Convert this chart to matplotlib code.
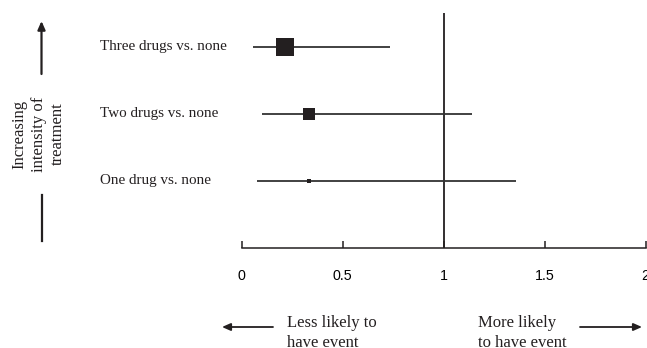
import matplotlib

matplotlib.use("Agg")
import matplotlib.pyplot as plt
from matplotlib.transforms import blended_transform_factory

# data
comparisons = ["Three drugs vs. none", "Two drugs vs. none", "One drug vs. none"]
estimates = [0.216, 0.335, 0.335]
ci_low = [0.057, 0.10, 0.074]
ci_high = [0.734, 1.14, 1.36]
rows = [3, 2, 1]
x_ticks = [0, 0.5, 1, 1.5, 2]
x_tick_labels = ["0", "0.5", "1", "1.5", "2"]

# marker sizes (points) in the same order as comparisons
marker_sizes = [12.7, 9.1, 2.3]

ink = "#231f20"
serif = ["Liberation Serif", "DejaVu Serif"]

fig = plt.figure(figsize=(6.47, 3.48), dpi=100)
fig.patch.set_facecolor("white")
ax = fig.add_axes([241.7 / 647, 1 - 248 / 348, 404 / 647, 235 / 348])

for r, est, lo, hi, ms in zip(rows, estimates, ci_low, ci_high, marker_sizes):
    ax.plot([lo, hi], [r, r], color="#333333", linewidth=1.3, solid_capstyle="butt", zorder=2)
    ax.plot([est], [r], marker="s", markersize=ms, color=ink, markeredgewidth=0, zorder=3)

ax.axvline(1.0, color=ink, linewidth=1.3, zorder=1)

ax.set_xlim(0, 2)
ax.set_ylim(0, 3.5)
ax.set_xticks(x_ticks)
ax.set_xticklabels(x_tick_labels, fontfamily="Liberation Sans", fontsize=10.3)
ax.set_yticks([])
for side in ["left", "right", "top"]:
    ax.spines[side].set_visible(False)
ax.spines["bottom"].set_color(ink)
ax.spines["bottom"].set_linewidth(1.1)
ax.tick_params(axis="x", direction="in", length=5, width=1.1, color=ink, pad=15)

# comparison labels to the left of the plot area
trans = blended_transform_factory(fig.transFigure, ax.transData)
for r, name in zip(rows, comparisons):
    ax.text(100 / 647, r, name, transform=trans, ha="left", va="center",
            fontfamily=serif, fontsize=10.9, color=ink, clip_on=False)

# vertical annotation on the far left
fig.text(39 / 647, 1 - 134 / 348, "Increasing\nintensity of\ntreatment", rotation=90,
         ha="center", va="center", multialignment="center", fontfamily=serif,
         fontsize=12, color=ink, linespacing=1.28)
fig.add_artist(matplotlib.patches.FancyArrowPatch(
    (41.5 / 647, 1 - 74 / 348), (41.5 / 647, 1 - 21 / 348), transform=fig.transFigure,
    arrowstyle="-|>,head_length=5,head_width=2.2", color=ink, linewidth=1.6, shrinkA=0, shrinkB=0))
fig.add_artist(matplotlib.lines.Line2D(
    [41.5 / 647, 41.5 / 647], [1 - 195 / 348, 1 - 241 / 348], transform=fig.transFigure,
    color=ink, linewidth=1.6))

# bottom direction annotations
fig.add_artist(matplotlib.patches.FancyArrowPatch(
    (273 / 647, 1 - 327 / 348), (222 / 647, 1 - 327 / 348), transform=fig.transFigure,
    arrowstyle="-|>,head_length=5,head_width=2.2", color=ink, linewidth=1.3, shrinkA=0, shrinkB=0))
fig.add_artist(matplotlib.patches.FancyArrowPatch(
    (580 / 647, 1 - 327 / 348), (642 / 647, 1 - 327 / 348), transform=fig.transFigure,
    arrowstyle="-|>,head_length=5,head_width=2.2", color=ink, linewidth=1.3, shrinkA=0, shrinkB=0))
fig.text(287 / 647, 1 - 315 / 348, "Less likely to\nhave event", ha="left", va="top",
         fontfamily=serif, fontsize=12, color=ink, linespacing=1.35)
fig.text(478 / 647, 1 - 315 / 348, "More likely\nto have event", ha="left", va="top",
         fontfamily=serif, fontsize=12, color=ink, linespacing=1.35)

plt.savefig("out.png", dpi=100, facecolor="white")
